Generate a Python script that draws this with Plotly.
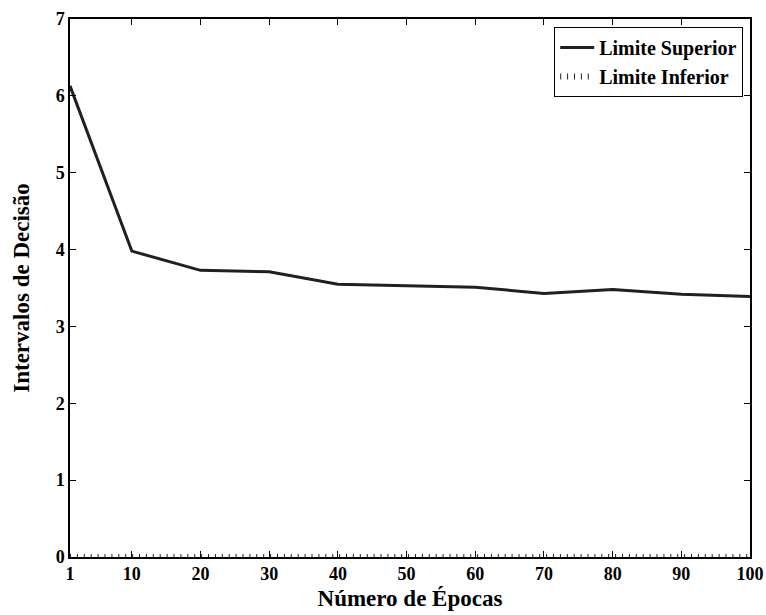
import plotly.graph_objects as go

epocas = [1, 10, 20, 30, 40, 50, 60, 70, 80, 90, 100]
limite_superior = [6.13, 3.98, 3.73, 3.71, 3.55, 3.53, 3.51, 3.43, 3.48, 3.42, 3.39]
limite_inferior = [0, 0, 0, 0, 0, 0, 0, 0, 0, 0, 0]
x_ticks = [1, 10, 20, 30, 40, 50, 60, 70, 80, 90, 100]
y_ticks = [0, 1, 2, 3, 4, 5, 6, 7]

FONT = "Liberation Serif"
INK = "#231f20"

fig = go.Figure()
fig.add_trace(go.Scatter(
    x=epocas, y=limite_superior, mode="lines", name="<b>Limite Superior</b>",
    line=dict(color=INK, width=3),
))
fig.add_trace(go.Scatter(
    x=epocas, y=limite_inferior, mode="lines", name="<b>Limite Inferior</b>",
    line=dict(color=INK, width=6, dash="1px,5.9px"),
))

axis_common = dict(
    showline=True, linecolor="black", linewidth=1.5, mirror="ticks",
    ticks="inside", ticklen=6, tickwidth=1, tickcolor="black",
    showgrid=False, zeroline=False, automargin=False,
    tickfont=dict(family=FONT, size=18, color="black"),
)

fig.update_layout(
    width=766, height=615,
    margin=dict(l=70, r=16, t=19, b=58),
    paper_bgcolor="white", plot_bgcolor="white",
    font=dict(family=FONT, color="black"),
    xaxis=dict(range=[1, 100], tickvals=x_ticks,
               ticktext=["<b>%d</b>" % v for v in x_ticks],
               title=dict(text="<b>Número de Épocas</b>", standoff=7,
                          font=dict(family=FONT, size=23, color="black")),
               **axis_common),
    yaxis=dict(range=[0, 7], tickvals=y_ticks,
               ticktext=["<b>%d</b>" % v for v in y_ticks],
               title=dict(text="<b>Intervalos de Decisão</b>", standoff=20,
                          font=dict(family=FONT, size=23, color="black")),
               **axis_common),
    legend=dict(
        x=0.99, y=0.985, xanchor="right", yanchor="top",
        bordercolor="black", borderwidth=1, bgcolor="white",
        font=dict(family=FONT, size=20, color="black"),
        tracegroupgap=0, itemwidth=34,
    ),
    showlegend=True,
)

fig.write_html("out.html")
